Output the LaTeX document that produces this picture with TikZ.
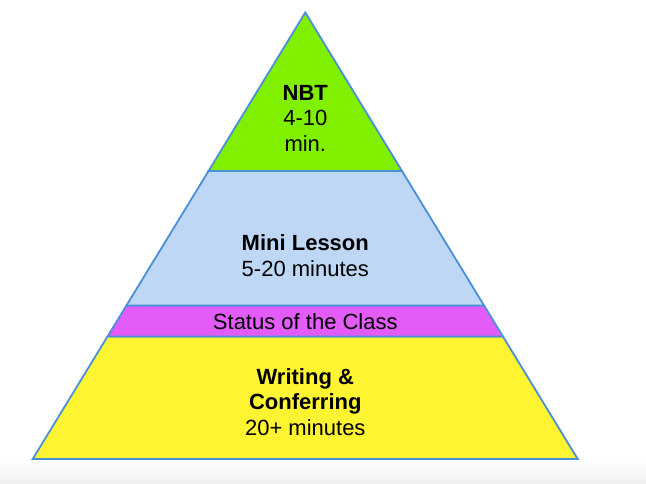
\documentclass[tikz,border=0pt]{standalone}
\usepackage{fontspec}
\setmainfont{Liberation Sans}
\usetikzlibrary{calc}

\definecolor{edgeblue}{HTML}{4A90D9}
\definecolor{nbtgreen}{HTML}{80F000}
\definecolor{lessonblue}{HTML}{BDD7F4}
\definecolor{statusmagenta}{HTML}{E35CF8}
\definecolor{writingyellow}{HTML}{FFF431}

\begin{document}
\begin{tikzpicture}[x=1pt,y=-1pt,
	tier/.style={draw=edgeblue,line width=1.8pt,line join=miter},
	tiertext/.style={align=center,inner sep=0pt,font=\fontsize{22}{25.5}\selectfont}]

% parameters %{{{2

	\def\midx{305.3}

% coordinates %{{{2

	\useasboundingbox (0,0) rectangle (646,483);
	\shade[top color=white,bottom color=gray!12] (0,461) rectangle (646,483);

	\coordinate (A) at (\midx,12.5);
	\coordinate (L) at (32.7,459);
	\coordinate (R) at (577.7,459);

	\foreach \t [count=\i] in {0.355,0.656,0.7257} {
		\coordinate (L\i) at ($(A)!\t!(L)$);
		\coordinate (R\i) at ($(A)!\t!(R)$);
	}

% tiers %{{{2

	\filldraw[tier,fill=writingyellow] (L3) -- (R3) -- (R) -- (L) -- cycle;
	\filldraw[tier,fill=statusmagenta] (L2) -- (R2) -- (R3) -- (L3) -- cycle;
	\filldraw[tier,fill=lessonblue] (L1) -- (R1) -- (R2) -- (L2) -- cycle;
	\filldraw[tier,fill=nbtgreen] (A) -- (R1) -- (L1) -- cycle;

% texts %{{{2

	\node[tiertext] (nbt) at (\midx,118) {\textbf{NBT}\\4-10\\min.};
	\node[tiertext] (lesson) at (\midx,255.5) {\textbf{Mini Lesson}\\5-20 minutes};
	\node[tiertext] (status) at (\midx,321.5) {Status of the Class};
	\node[tiertext] (writing) at (\midx,402) {\textbf{Writing \&}\\\textbf{Conferring}\\20+ minutes};

% closing %{{{2

\end{tikzpicture}
\end{document}
